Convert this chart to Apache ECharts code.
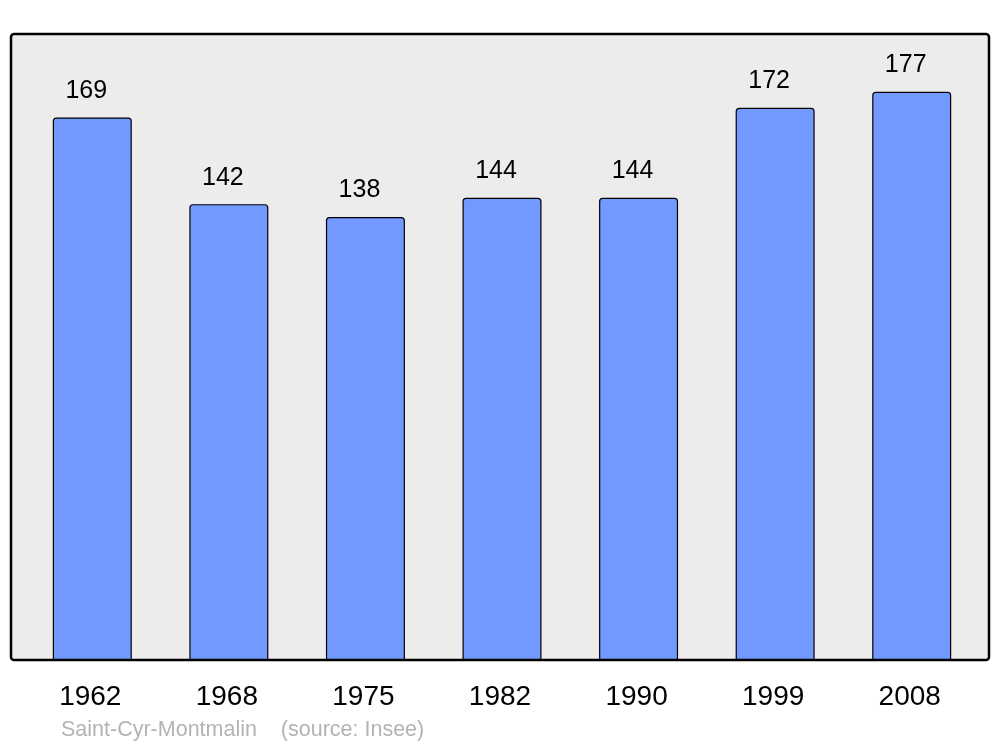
<!DOCTYPE html>
<html>
<head>
<meta charset="utf-8">
<script src="https://cdn.jsdelivr.net/npm/echarts@6/dist/echarts.min.js"></script>
<style>html,body{margin:0;padding:0;background:#fff;}#c{width:1000px;height:747px;}</style>
</head>
<body>
<div id="c"></div>
<script>
var categories = ['1962', '1968', '1975', '1982', '1990', '1999', '2008'];
var population = [169, 142, 138, 144, 144, 172, 177];
var footerText = 'Saint-Cyr-Montmalin    (source: Insee)';

var chart = echarts.init(document.getElementById('c'), null, {renderer: 'canvas'});
chart.setOption({
  animation: false,
  backgroundColor: '#ffffff',
  textStyle: {fontFamily: 'Liberation Sans, Arial, sans-serif'},
  title: {
    text: footerText,
    left: 61, top: 719,
    padding: 0,
    textStyle: {fontSize: 21.5, fontWeight: 'normal', color: '#b3b3b3', fontFamily: 'Liberation Sans, Arial, sans-serif'}
  },
  graphic: [{
    type: 'rect', z: -10, silent: true,
    shape: {x: 11, y: 34, width: 978, height: 626, r: 3},
    style: {fill: '#ececec', stroke: '#000000', lineWidth: 2.5}
  }],
  grid: {left: 24, right: 20, top: 34, bottom: 87},
  xAxis: {
    type: 'category',
    data: categories,
    axisLine: {show: false},
    axisTick: {show: false},
    axisLabel: {fontSize: 28, color: '#000', margin: 23, padding: [0, 4, 0, 0], fontFamily: 'Liberation Sans, Arial, sans-serif'}
  },
  yAxis: {
    type: 'value', min: 0, max: 195,
    show: false,
    splitLine: {show: false}
  },
  series: [{
    type: 'bar',
    data: population,
    barWidth: 79,
    itemStyle: {color: '#7299ff', borderColor: '#000', borderWidth: 1.2, borderRadius: [3, 3, 0, 0]},
    label: {
      show: true, position: 'top', distance: 14, offset: [-6, 0],
      fontSize: 25, color: '#000', fontFamily: 'Liberation Sans, Arial, sans-serif'
    }
  }]
});
</script>
</body>
</html>
